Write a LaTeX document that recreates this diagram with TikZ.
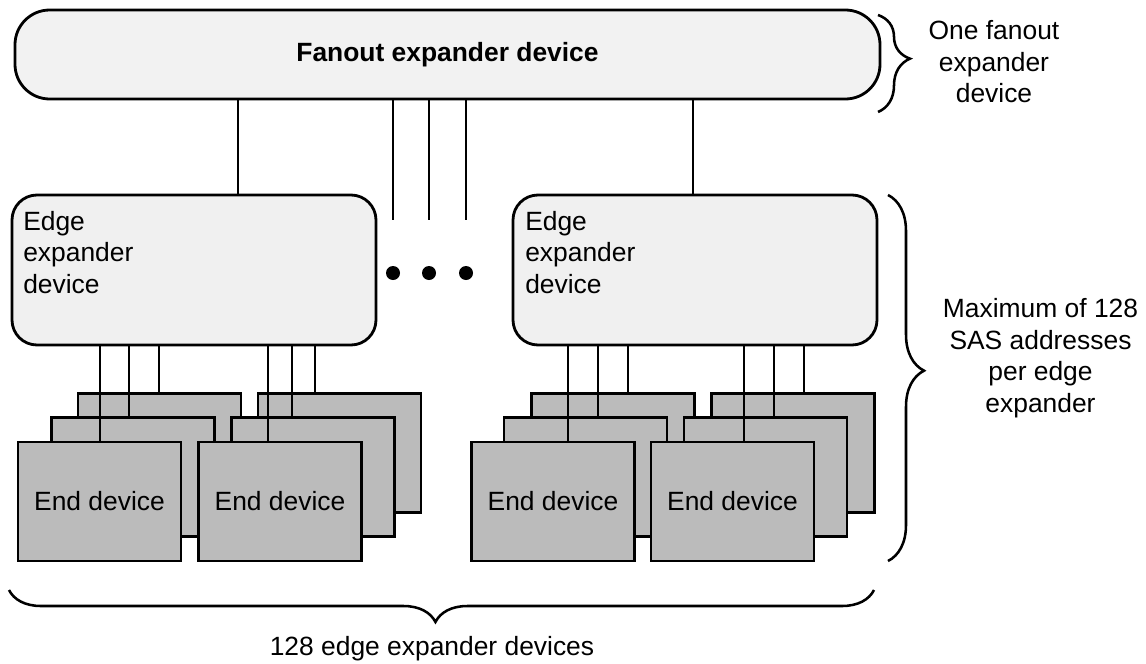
\documentclass[tikz,border=0pt]{standalone}
\usepackage{fontspec}
\setmainfont{Liberation Sans}
\usetikzlibrary{decorations.pathreplacing}
\definecolor{fanfill}{HTML}{F2F2F2}
\definecolor{edgefill}{HTML}{F0F0F0}
\definecolor{endfill}{HTML}{BBBBBB}
\begin{document}
\begin{tikzpicture}[x=0.75pt,y=-0.75pt,
  every node/.style={font=\fontsize{19.8}{23.6}\selectfont},
  fanbox/.style={draw, line width=2.1pt, fill=fanfill, rounded corners=26pt,
    minimum width=648.75pt, minimum height=66.75pt, inner sep=0pt},
  edgebox/.style={draw, line width=2.1pt, fill=edgefill, rounded corners=18.75pt,
    minimum width=273pt, minimum height=112.5pt, inner sep=0pt},
  endbox/.style={draw, line width=2pt, fill=endfill,
    minimum width=122.25pt, minimum height=89.25pt, inner sep=0pt},
  wire/.style={line width=1.5pt},
  dotnode/.style={circle, fill=black, minimum size=10.5pt, inner sep=0pt},
  bracepath/.style 2 args={line width=1.9pt, decorate,
    decoration={brace, amplitude=#1, aspect=#2}},
  lbl/.style={align=center, inner sep=0pt},
  edgetext/.style={align=left, anchor=north west, inner sep=0pt}
]
\useasboundingbox (0,0) rectangle (1146,664);

% fanout expander
\node[fanbox] (fan) at (447.5,54.5) {\bfseries Fanout expander device};

% edge expanders
\node[edgebox] (eL) at (194,270) {};
\node[edgebox] (eR) at (695,270) {};
\node[edgetext] (eLt) at (23,211) {Edge\\expander\\device};
\node[edgetext] (eRt) at (525,211) {Edge\\expander\\device};

% fanout -> edge connectors
\coordinate (fl) at (238,0);
\coordinate (fr) at (693,0);
\draw[wire] (fan.south -| fl) -- (eL.north -| fl);
\draw[wire] (fan.south -| fr) -- (eR.north -| fr);

% loose connectors (more edge expanders)
\coordinate (m1) at (393,220);
\coordinate (m2) at (429,220);
\coordinate (m3) at (466,220);
\draw[wire] (fan.south -| m1) -- (m1);
\draw[wire] (fan.south -| m2) -- (m2);
\draw[wire] (fan.south -| m3) -- (m3);
\node[dotnode] (d1) at (393,273) {};
\node[dotnode] (d2) at (429,273) {};
\node[dotnode] (d3) at (466,273) {};

% end devices (back to front)
\node[endbox] (A3) at (159.5,453) {};
\node[endbox] (A2) at (133,477) {};
\node[endbox] (A1) at (99.5,501.5) {End device};
\node[endbox] (B3) at (339.5,453) {};
\node[endbox] (B2) at (313,477) {};
\node[endbox] (B1) at (280,501.5) {End device};
\node[endbox] (C3) at (613,453) {};
\node[endbox] (C2) at (585.5,477) {};
\node[endbox] (C1) at (553,501.5) {End device};
\node[endbox] (D3) at (793,453) {};
\node[endbox] (D2) at (765.5,477) {};
\node[endbox] (D1) at (732.5,501.5) {End device};

% edge -> end connectors
\coordinate (xa1) at (100,0);  \coordinate (xa2) at (129,0);  \coordinate (xa3) at (159,0);
\coordinate (xb1) at (268,0);  \coordinate (xb2) at (292,0);  \coordinate (xb3) at (315,0);
\coordinate (xc1) at (568,0);  \coordinate (xc2) at (598,0);  \coordinate (xc3) at (628,0);
\coordinate (xd1) at (744,0);  \coordinate (xd2) at (774,0);  \coordinate (xd3) at (804,0);
\draw[wire] (eL.south -| xa1) -- (A1.north -| xa1);
\draw[wire] (eL.south -| xa2) -- (A2.north -| xa2);
\draw[wire] (eL.south -| xa3) -- (A3.north -| xa3);
\draw[wire] (eL.south -| xb1) -- (B1.north -| xb1);
\draw[wire] (eL.south -| xb2) -- (B2.north -| xb2);
\draw[wire] (eL.south -| xb3) -- (B3.north -| xb3);
\draw[wire] (eR.south -| xc1) -- (C1.north -| xc1);
\draw[wire] (eR.south -| xc2) -- (C2.north -| xc2);
\draw[wire] (eR.south -| xc3) -- (C3.north -| xc3);
\draw[wire] (eR.south -| xd1) -- (D1.north -| xd1);
\draw[wire] (eR.south -| xd2) -- (D2.north -| xd2);
\draw[wire] (eR.south -| xd3) -- (D3.north -| xd3);

% braces
\coordinate (bt1) at (878,15);  \coordinate (bt2) at (878,112);
\draw[bracepath={24pt}{0.45}] (bt1) -- (bt2);
\coordinate (be1) at (888,195); \coordinate (be2) at (888,561);
\draw[bracepath={27pt}{0.48}] (be1) -- (be2);
\coordinate (bb1) at (874,590); \coordinate (bb2) at (9,590);
\draw[bracepath={24pt}{0.507}] (bb1) -- (bb2);

% labels
\node[lbl] (tfan) at (994,62) {One fanout\\expander\\device};
\node[lbl] (tmax) at (1040.5,358) {Maximum of 128\\SAS addresses\\per edge\\expander};
\node[lbl, anchor=base] (tbot) at (432,655) {128 edge expander devices};
\end{tikzpicture}
\end{document}
